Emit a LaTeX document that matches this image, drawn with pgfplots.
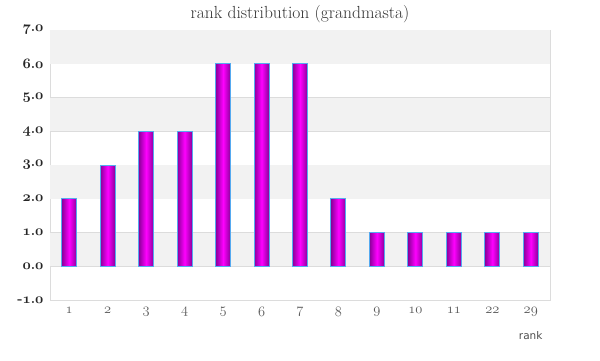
\documentclass[border=0pt]{standalone}
\usepackage{fontspec}
\usepackage{pgfplots}
\pgfplotsset{compat=1.18}
\newfontfamily\verd{DejaVu Sans}
\newcommand\osn[1]{{\usefont{OML}{cmm}{m}{it}#1}}
\newcommand\osb[1]{{\usefont{OML}{cmm}{b}{it}#1}}
\newcommand\yl[2]{\osb{#1}\textbf{.}\osb{#2}}
\definecolor{band}{HTML}{F2F2F2}
\definecolor{gridc}{HTML}{DCDCDC}
\definecolor{edgec}{HTML}{55AAF0}
\definecolor{barA}{HTML}{8A0099}
\definecolor{barB}{HTML}{FF00FF}
\definecolor{txt}{HTML}{333333}
\pgfplotsset{gbar/.style={ybar, bar width=15pt, bar shift=0pt, draw=edgec, line width=1pt,
  left color=barA, right color=barA, middle color=barB}}
\begin{document}
\begin{tikzpicture}[x=1pt,y=1pt]
\path[use as bounding box] (-50,-60) rectangle (550,300);
\begin{axis}[
  at={(0,0)}, anchor=south west,
  scale only axis, width=500pt, height=270pt,
  xmin=-0.5, xmax=12.5, ymin=-1, ymax=7,
  axis line style={draw=gridc},
  xtick={0,...,12},
  xticklabels={\osn{1},\osn{2},\osn{3},\osn{4},\osn{5},\osn{6},\osn{7},\osn{8},\osn{9},\osn{10},\osn{11},\osn{22},\osn{29}},
  ytick={-1,...,7},
  yticklabels={\textbf{-}\yl{1}{0},\yl{0}{0},\yl{1}{0},\yl{2}{0},\yl{3}{0},\yl{4}{0},\yl{5}{0},\yl{6}{0},\yl{7}{0}},
  major tick length=0pt,
  ymajorgrids, grid style={draw=gridc, line width=0.8pt},
  yticklabel style={xshift=-3pt, font=\fontsize{14}{16}\selectfont, text=black!85},
  xticklabel style={yshift=-4pt, font=\fontsize{14.5}{16}\selectfont, text=black!65},
  title={rank distribution (grandmasta)},
  title style={font=\fontsize{17.5}{19}\selectfont, text=txt, yshift=-2pt},
  xlabel={rank},
  xlabel style={at={(rel axis cs:1,0)}, anchor=east, xshift=-4pt, yshift=-36pt, font=\verd\fontsize{10.5}{12}\selectfont, text=black!70},
]
\fill[band] (axis cs:-0.5,6) rectangle (axis cs:12.5,7);
\fill[band] (axis cs:-0.5,4) rectangle (axis cs:12.5,5);
\fill[band] (axis cs:-0.5,2) rectangle (axis cs:12.5,3);
\fill[band] (axis cs:-0.5,0) rectangle (axis cs:12.5,1);
\addplot[gbar] coordinates {(0,2)};
\addplot[gbar] coordinates {(1,3)};
\addplot[gbar] coordinates {(2,4)};
\addplot[gbar] coordinates {(3,4)};
\addplot[gbar] coordinates {(4,6)};
\addplot[gbar] coordinates {(5,6)};
\addplot[gbar] coordinates {(6,6)};
\addplot[gbar] coordinates {(7,2)};
\addplot[gbar] coordinates {(8,1)};
\addplot[gbar] coordinates {(9,1)};
\addplot[gbar] coordinates {(10,1)};
\addplot[gbar] coordinates {(11,1)};
\addplot[gbar] coordinates {(12,1)};
\end{axis}
\end{tikzpicture}
\end{document}
